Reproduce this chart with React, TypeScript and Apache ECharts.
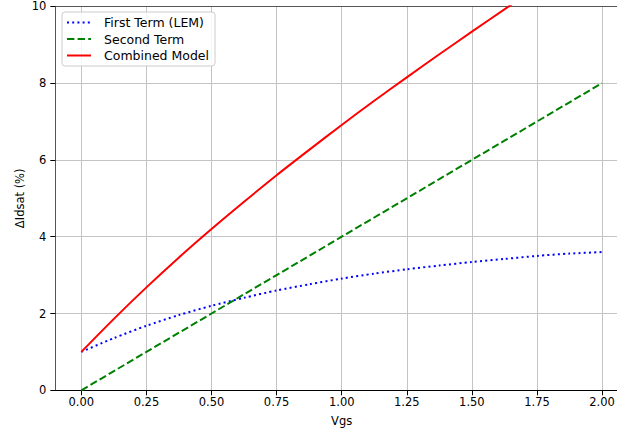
import React, { useEffect, useRef } from "react";
import * as echarts from "echarts";

const vgs = [0, 0.125, 0.25, 0.375, 0.5, 0.625, 0.75, 0.875, 1.0, 1.125, 1.25, 1.375, 1.5, 1.625, 1.75, 1.875, 2.0];
const firstTerm = [1.0, 1.36, 1.68, 1.96, 2.2, 2.41, 2.6, 2.76, 2.91, 3.04, 3.15, 3.25, 3.34, 3.42, 3.5, 3.56, 3.6];
const secondTerm = [0, 0.5, 1.0, 1.5, 2.0, 2.5, 3.0, 3.5, 4.0, 4.5, 5.0, 5.5, 6.0, 6.5, 7.0, 7.5, 8.0];
const combined = [1.0, 1.86, 2.68, 3.46, 4.2, 4.91, 5.6, 6.26, 6.91, 7.54, 8.15, 8.75, 9.34, 9.92, 10.5, 11.06, 11.6];
const xTicks = [0, 0.25, 0.5, 0.75, 1.0, 1.25, 1.5, 1.75, 2.0];
const seriesNames = ["First Term (LEM)", "Second Term", "Combined Model"];

const FONT = "DejaVu Sans";

export default function App() {
  const ref = useRef<HTMLDivElement>(null);
  useEffect(() => {
    const chart = echarts.init(ref.current!, null, { renderer: "svg" });
    const pairs = (ys: number[]) => vgs.map((x, i) => [x, ys[i]]);
    chart.setOption({
      animation: false,
      backgroundColor: "#fff",
      textStyle: { fontFamily: FONT },
      grid: { left: 55.3, top: 6.3, width: 572.8, height: 384, outerBoundsMode: "none", containLabel: false },
      legend: {
        orient: "vertical",
        left: 62,
        top: 12,
        padding: [4, 6, 4, 4],
        itemGap: 3.5,
        itemWidth: 24,
        itemHeight: 14,
        borderColor: "#cccccc",
        borderWidth: 1,
        borderRadius: 3,
        backgroundColor: "rgba(255,255,255,0.85)",
        itemStyle: { opacity: 0 },
        textStyle: { fontFamily: FONT, fontSize: 12.5, color: "#000", padding: [0, 0, 0, 8] },
        data: seriesNames,
      },
      xAxis: [
        {
          type: "value",
          min: -0.1,
          max: 2.1,
          name: "Vgs",
          nameLocation: "middle",
          nameGap: 25,
          nameMoveOverlap: false,
          nameTextStyle: { fontFamily: FONT, fontSize: 11.5, color: "#000" },
          axisLine: { show: true, onZero: false, lineStyle: { color: "#000", width: 1 } },
          axisTick: { show: true, length: 5, customValues: xTicks, lineStyle: { color: "#000" } },
          axisLabel: {
            customValues: xTicks,
            margin: 6,
            fontFamily: FONT,
            fontSize: 11.5,
            color: "#000",
            formatter: (v: number) => v.toFixed(2),
          },
          splitLine: { show: true, lineStyle: { color: "#c4c4c4", width: 1 } },
        },
        {
          type: "value",
          position: "top",
          min: -0.1,
          max: 2.1,
          axisLine: { show: true, onZero: false, lineStyle: { color: "#555", width: 1 } },
          axisTick: { show: false },
          axisLabel: { show: false },
          splitLine: { show: false },
        },
      ],
      yAxis: {
        type: "value",
        min: 0,
        max: 10,
        interval: 2,
        name: "ΔIdsat (%)",
        nameLocation: "middle",
        nameGap: 29,
        nameMoveOverlap: false,
        nameRotate: 90,
        nameTextStyle: { fontFamily: FONT, fontSize: 11.5, color: "#000" },
        axisLine: { show: true, onZero: false, lineStyle: { color: "#555", width: 1 } },
        axisTick: { show: true, length: 5, lineStyle: { color: "#000" } },
        axisLabel: { margin: 9, fontFamily: FONT, fontSize: 11.5, color: "#000" },
        splitLine: { show: true, lineStyle: { color: "#c4c4c4", width: 1 } },
      },
      series: [
        {
          name: seriesNames[0],
          type: "line",
          data: pairs(firstTerm),
          showSymbol: false,
          symbol: "none",
          smooth: 0.25,
          clip: true,
          lineStyle: { color: "#0000ff", width: 2, type: [2, 3.2], cap: "butt" },
          itemStyle: { color: "#0000ff" },
          z: 3,
        },
        {
          name: seriesNames[1],
          type: "line",
          data: pairs(secondTerm),
          showSymbol: false,
          symbol: "none",
          clip: true,
          lineStyle: { color: "#008000", width: 2, type: [7.4, 3.2], cap: "butt" },
          itemStyle: { color: "#008000" },
          z: 3,
        },
        {
          name: seriesNames[2],
          type: "line",
          data: pairs(combined),
          showSymbol: false,
          symbol: "none",
          smooth: 0.25,
          clip: true,
          lineStyle: { color: "#ff0000", width: 2 },
          itemStyle: { color: "#ff0000" },
          z: 3,
        },
      ],
    });
    return () => chart.dispose();
  }, []);
  return (
    <div
      ref={ref}
      style={{ position: "absolute", left: 0, top: 0, width: 617, height: 432, background: "#fff" }}
    />
  );
}
